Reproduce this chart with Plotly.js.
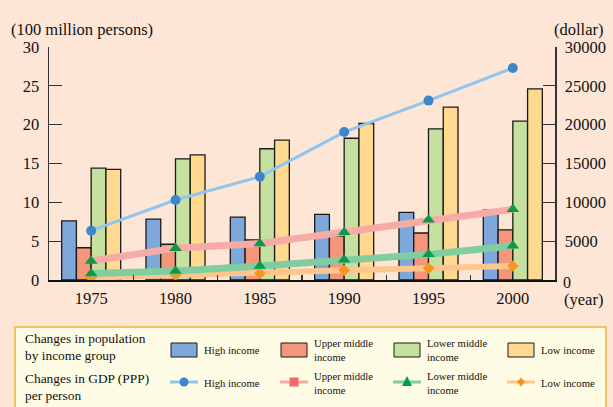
<!DOCTYPE html>
<html>
<head>
<meta charset="utf-8">
<script src="https://cdn.plot.ly/plotly-3.0.1.min.js"></script>
<style>html,body{margin:0;padding:0;background:#FEE6D6;}#chart{width:613px;height:407px;}</style>
</head>
<body>
<div id="chart"></div>
<script>
// ---- data ----
var years = ["1975", "1980", "1985", "1990", "1995", "2000"];
// population (100 million persons)
var popHigh = [7.6, 7.85, 8.1, 8.45, 8.7, 9.0];
var popUpperMiddle = [4.15, 4.6, 5.15, 5.65, 6.05, 6.45];
var popLowerMiddle = [14.4, 15.6, 16.9, 18.25, 19.45, 20.45];
var popLow = [14.25, 16.1, 18.0, 20.15, 22.25, 24.6];
// GDP (PPP) per person (dollar)
var gdpHigh = [6350, 10300, 13300, 19050, 23100, 27300];
var gdpUpperMiddle = [2450, 4100, 4700, 6150, 7750, 9100];
var gdpLowerMiddle = [850, 1150, 1800, 2600, 3300, 4400];
var gdpLow = [300, 650, 850, 1250, 1500, 1800];
var seriesNames = ["High income", "Upper middle<br>income", "Lower middle<br>income", "Low income"];
var leftTicks = [0, 5, 10, 15, 20, 25, 30];
var rightTicks = [5000, 10000, 15000, 20000, 25000, 30000];
var rightTickText = ["5000", "10000", "15000", "20000", "25000", "30000"];

// ---- geometry helpers (pixel -> paper) ----
var W = 613, H = 407, L = 49, R = 555, T = 47, B = 280;
function px(x) { return (x - L) / (R - L); }
function py(y) { return (B - y) / (B - T); }

var FONT = "Liberation Serif, Times New Roman, serif";
var barColors = ["#7EA7DA", "#F4967A", "#C6E0A0", "#FED98F"];
var lineColors = ["#8FC5EE", "#F6ABA6", "#82CDA0", "#FCC68D"];

var traces = [];
var pops = [popHigh, popUpperMiddle, popLowerMiddle, popLow];
for (var i = 0; i < 4; i++) {
  traces.push({
    type: "bar", x: years, y: pops[i], name: seriesNames[i],
    marker: {color: barColors[i], line: {color: "#1a1a1a", width: 1.3}},
    yaxis: "y", showlegend: false, hoverinfo: "skip"
  });
}
traces.push({type: "scatter", mode: "lines+markers", x: years, y: gdpLow, yaxis: "y2",
  line: {color: lineColors[3], width: 6}, marker: {symbol: "diamond", size: 9, color: "#F7961E"}, showlegend: false});
traces.push({type: "scatter", mode: "lines+markers", x: years, y: gdpLowerMiddle, yaxis: "y2",
  line: {color: lineColors[2], width: 7}, marker: {symbol: "triangle-up", size: 11, color: "#0B9A4A"}, showlegend: false});
traces.push({type: "scatter", mode: "lines+markers", x: years, y: gdpUpperMiddle, yaxis: "y2",
  line: {color: lineColors[1], width: 7}, marker: {symbol: "triangle-up", size: 11, color: "#0B9A4A"}, showlegend: false});
traces.push({type: "scatter", mode: "lines+markers", x: years, y: gdpHigh, yaxis: "y2",
  line: {color: lineColors[0], width: 3}, marker: {symbol: "circle", size: 10, color: "#3C86CC"}, showlegend: false});

var shapes = [];
var annotations = [];
function ann(text, x, y, xa, ya, size, extra) {
  var a = {text: text, x: px(x), y: py(y), xref: "paper", yref: "paper", xanchor: xa, yanchor: ya,
    showarrow: false, font: {family: FONT, size: size, color: "#111"}, align: "left"};
  if (extra) for (var k in extra) a[k] = extra[k];
  annotations.push(a);
}
ann("(100 million persons)", 9, 29, "left", "middle", 16.5);
ann("(dollar)", 605, 29, "right", "middle", 16.5);
ann("(year)", 605, 299, "right", "middle", 16.5);
ann("0", 561, 282, "left", "middle", 16);

// legend box
shapes.push({type: "rect", xref: "paper", yref: "paper", x0: px(15), x1: px(606), y0: py(327), y1: py(412),
  fillcolor: "#FFFCE6", line: {color: "#F2C466", width: 2}, layer: "above"});
ann("Changes in population<br>by income group", 23, 347, "left", "middle", 13.4, {align: "left"});
ann("Changes in GDP (PPP)<br>per person", 23, 387, "left", "middle", 13.4, {align: "left"});
var colX = [171, 281, 394, 508];
for (var j = 0; j < 4; j++) {
  var x0 = colX[j];
  shapes.push({type: "rect", xref: "paper", yref: "paper", x0: px(x0), x1: px(x0 + 26), y0: py(343), y1: py(357),
    fillcolor: barColors[j], line: {color: "#1a1a1a", width: 1}, layer: "above"});
  ann(seriesNames[j], x0 + 31, 350, "left", "middle", 10.7);
  shapes.push({type: "line", xref: "paper", yref: "paper", x0: px(x0 - 1), x1: px(x0 + 27), y0: py(382), y1: py(382),
    line: {color: lineColors[j], width: 3}, layer: "above"});
  ann(seriesNames[j], x0 + 31, 383, "left", "middle", 10.7);
}
// legend markers
var cx;
cx = colX[0] + 13; shapes.push({type: "circle", xref: "paper", yref: "paper", x0: px(cx - 4.5), x1: px(cx + 4.5), y0: py(377.5), y1: py(386.5), fillcolor: "#3C86CC", line: {width: 0}, layer: "above"});
cx = colX[1] + 13; shapes.push({type: "rect", xref: "paper", yref: "paper", x0: px(cx - 4.5), x1: px(cx + 4.5), y0: py(377.5), y1: py(386.5), fillcolor: "#EE6A6A", line: {width: 0}, layer: "above"});
cx = colX[2] + 13;
shapes.push({type: "path", xref: "paper", yref: "paper",
  path: "M " + px(cx) + " " + py(376) + " L " + px(cx + 5) + " " + py(386) + " L " + px(cx - 5) + " " + py(386) + " Z",
  fillcolor: "#0B9A4A", line: {width: 0}, layer: "above"});
cx = colX[3] + 13;
shapes.push({type: "path", xref: "paper", yref: "paper",
  path: "M " + px(cx) + " " + py(377.5) + " L " + px(cx + 4) + " " + py(382) + " L " + px(cx) + " " + py(386.5) + " L " + px(cx - 4) + " " + py(382) + " Z",
  fillcolor: "#F7961E", line: {width: 0}, layer: "above"});

var layout = {
  width: W, height: H,
  margin: {l: L, r: W - R, t: T, b: H - B, pad: 0},
  paper_bgcolor: "#FEE6D6", plot_bgcolor: "#FEE6D6",
  barmode: "group", bargap: 0.3, bargroupgap: 0,
  showlegend: false,
  font: {family: FONT, size: 16.5, color: "#111"},
  xaxis: {
    type: "category", range: [-0.5, 5.5], tickson: "boundaries",
    ticks: "inside", ticklen: 5, tickwidth: 1.2, tickcolor: "#333",
    showline: true, linecolor: "#111", linewidth: 1.5, showgrid: false, zeroline: false,
    tickfont: {family: FONT, size: 16.5, color: "#111"}, ticklabelstandoff: 3
  },
  yaxis: {
    range: [0, 30], tickvals: leftTicks, ticks: "inside", ticklen: 13, tickwidth: 1.3, tickcolor: "#333",
    showline: true, linecolor: "#333", linewidth: 1.5, showgrid: false, zeroline: false,
    tickfont: {family: FONT, size: 16.5, color: "#111"}, ticklabelstandoff: 5
  },
  yaxis2: {
    overlaying: "y", side: "right", range: [0, 30000], tickvals: rightTicks, ticktext: rightTickText,
    ticks: "inside", ticklen: 12, tickwidth: 1.3, tickcolor: "#333",
    showline: true, linecolor: "#333", linewidth: 1.5, showgrid: false, zeroline: false,
    tickfont: {family: FONT, size: 16.5, color: "#111"}, ticklabelstandoff: 5
  },
  shapes: shapes,
  annotations: annotations
};
Plotly.newPlot("chart", traces, layout, {staticPlot: true, displayModeBar: false});
</script>
</body>
</html>
